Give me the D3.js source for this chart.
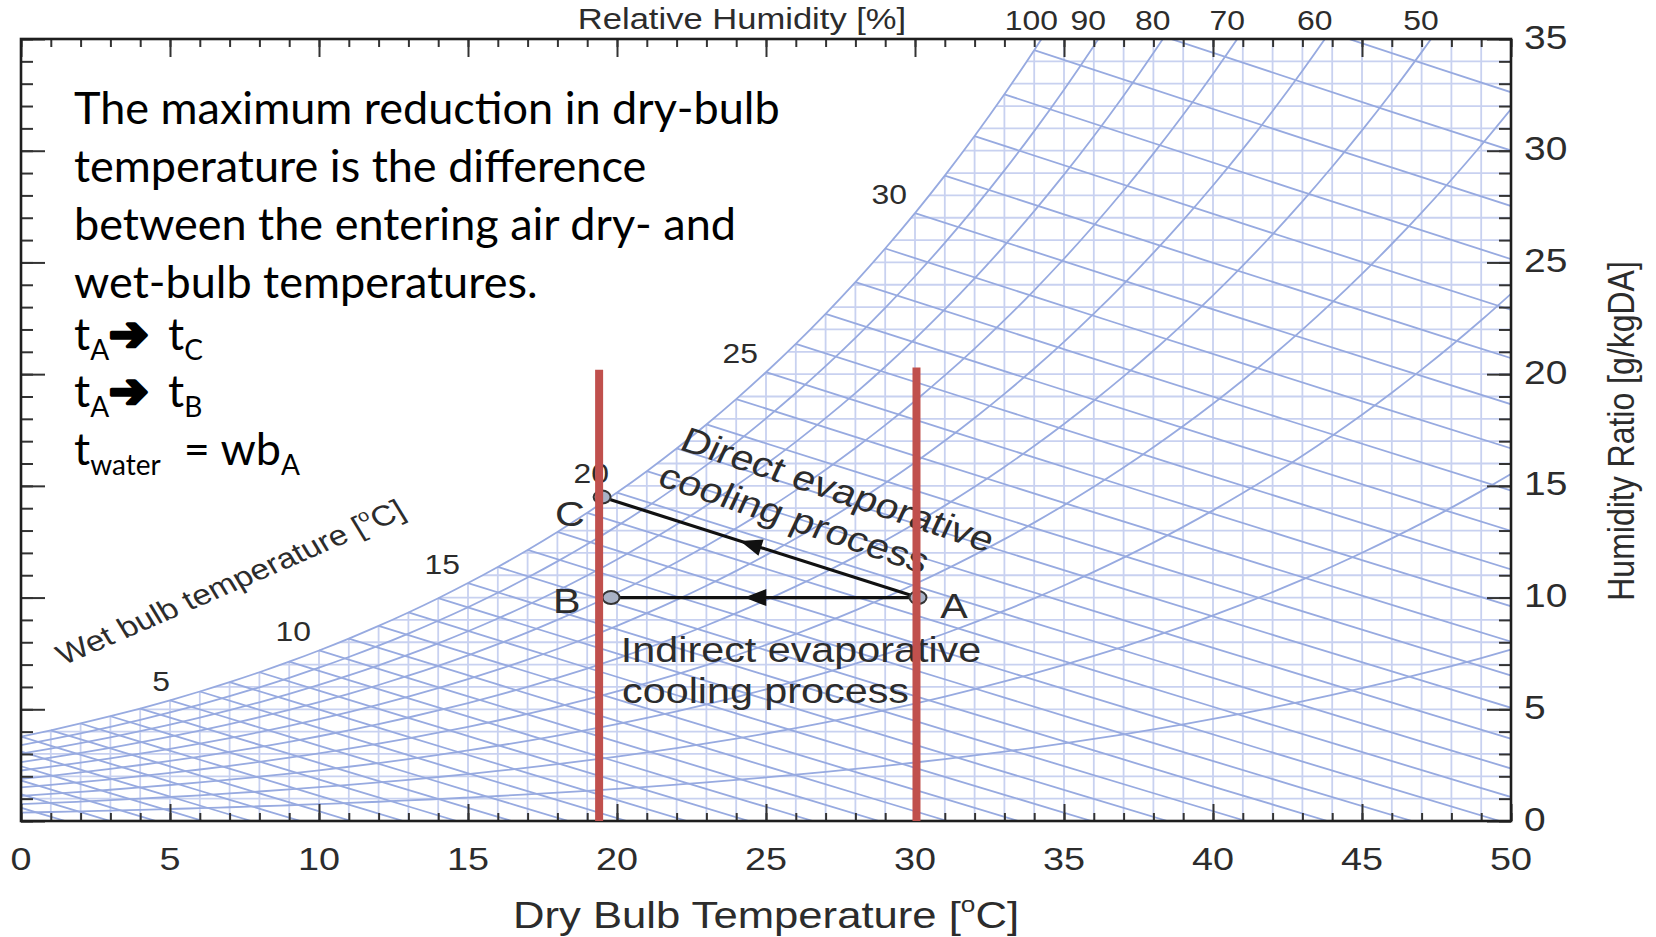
<!DOCTYPE html>
<html>
<head>
<meta charset="utf-8">
<title>Evaporative cooling on the psychrometric chart</title>
<script src="https://cdn.jsdelivr.net/npm/d3@7/dist/d3.min.js"></script>
<style>
  html, body { margin: 0; padding: 0; background: #ffffff; }
  svg { display: block; }
  text { white-space: pre; }
</style>
</head>
<body>
<svg id="chart" width="1656" height="937"></svg>
<script>
// ---------------- data ----------------
const atmosphericPressure = 101.325; // kPa

// Saturation vapour pressure of water (kPa) at whole degrees Celsius
const satTempC = [-10, -9, -8, -7, -6, -5, -4, -3, -2, -1,
  0, 1, 2, 3, 4, 5, 6, 7, 8, 9, 10, 11, 12, 13, 14, 15, 16, 17, 18, 19, 20,
  21, 22, 23, 24, 25, 26, 27, 28, 29, 30, 31, 32, 33, 34, 35, 36, 37, 38, 39, 40,
  41, 42, 43, 44, 45, 46, 47, 48, 49, 50];
const satPressureKPa = [0.2865, 0.3101, 0.3352, 0.3620, 0.3906, 0.4214, 0.4545, 0.4899, 0.5278, 0.5682,
  0.6112, 0.6571, 0.7060, 0.7581, 0.8135, 0.8726, 0.9354, 1.0021, 1.0730, 1.1482, 1.2282,
  1.3129, 1.4028, 1.4981, 1.5989, 1.7057, 1.8188, 1.9383, 2.0647, 2.1982, 2.3392,
  2.4881, 2.6452, 2.8109, 2.9856, 3.1697, 3.3637, 3.5679, 3.7828, 4.0089, 4.2467,
  4.4966, 4.7592, 5.0351, 5.3247, 5.6286, 5.9475, 6.2818, 6.6324, 6.9997, 7.3844,
  7.7873, 8.2090, 8.6503, 9.1118, 9.5944, 10.098, 10.624, 11.173, 11.746, 12.344];

const relativeHumidityLevels = [10, 20, 30, 40, 50, 60, 70, 80, 90, 100];
const relativeHumidityLabels = [100, 90, 80, 70, 60, 50];
const wetBulbLineTemps = [-6, -5, -4, -3, -2, -1, 0, 1, 2, 3, 4, 5, 6, 7, 8, 9, 10,
  11, 12, 13, 14, 15, 16, 17, 18, 19, 20, 21, 22, 23, 24, 25, 26, 27, 28, 29, 30,
  31, 32, 33, 34, 35, 36];
const wetBulbLabelTemps = [5, 10, 15, 20, 25, 30];

const dryBulbTicks = [0, 5, 10, 15, 20, 25, 30, 35, 40, 45, 50];
const humidityTicks = [0, 5, 10, 15, 20, 25, 30, 35];

// State points: dry bulb (°C) and humidity ratio (g/kg dry air)
const stateNames = ['A', 'B', 'C'];
const stateDryBulb = [30.1, 19.8, 19.5];
const stateHumidity = [10.0, 10.0, 14.5];
const processPaths = [['A', 'C'], ['A', 'B']];

// Vertical bars at t_C and t_A (°C) with the humidity ratio they reach
const barTemps = [19.4, 30.05];
const barTops = [20.2, 20.3];

const noteLines = [
  'The maximum reduction in dry-bulb',
  'temperature is the difference',
  'between the entering air dry- and',
  'wet-bulb temperatures.'
];
const formulaLines = [
  [{ t: 't' }, { t: 'A', sub: true }, { t: '\u2794', arrow: true }, { t: ' t', gap: 8 }, { t: 'C', sub: true }],
  [{ t: 't' }, { t: 'A', sub: true }, { t: '\u2794', arrow: true }, { t: ' t', gap: 8 }, { t: 'B', sub: true }],
  [{ t: 't' }, { t: 'water', sub: true }, { t: '  = wb' }, { t: 'A', sub: true }]
];

// ---------------- helpers ----------------
function humidityRatio(p, phi) {
  const pw = phi * p;
  return 622 * pw / (atmosphericPressure - pw);
}
const satIndex = t => satTempC.indexOf(t);
const satHumidity = t => humidityRatio(satPressureKPa[satIndex(t)], 1);

const svg = d3.select('#chart');
const x = d3.scaleLinear().domain([0, 50]).range([21, 1511]);
const y = d3.scaleLinear().domain([0, 35]).range([821, 39]);

const gridBlue = '#c8d1f0';
const lineBlue = '#97aae0';
const ink = '#2c2c2c';
const STRETCH = 1.18;

const curveLine = d3.line().x(d => x(d[0])).y(d => y(d[1])).curve(d3.curveMonotoneX);
const straight = d3.line().x(d => x(d[0])).y(d => y(d[1]));

function chartText(parent, px, py, angle, size) {
  const rad = angle * Math.PI / 180;
  const local = Math.abs(angle) === 90 ? angle : Math.atan(Math.tan(rad) * STRETCH) * 180 / Math.PI;
  return parent.append('text')
    .attr('transform', `translate(${px},${py}) scale(${STRETCH},1) rotate(${local})`)
    .attr('font-family', '"Liberation Sans", Arial, sans-serif')
    .attr('font-size', size)
    .attr('fill', ink);
}
function degreeC(textSel, before, size) {
  textSel.append('tspan').text(before + '[');
  textSel.append('tspan').attr('font-size', size * 0.6).attr('dy', -size * 0.42).text('o');
  textSel.append('tspan').attr('dy', size * 0.42).text('C]');
}

// ---------------- clip regions ----------------
const defs = svg.append('defs');
defs.append('clipPath').attr('id', 'plot-clip').append('rect')
  .attr('x', x(0)).attr('y', y(35)).attr('width', x(50) - x(0)).attr('height', y(0) - y(35));

const satPoints = satTempC.filter(t => t >= -1).map(t => [t, satHumidity(t)]);
defs.append('clipPath').attr('id', 'sat-clip').append('path')
  .attr('d', curveLine(satPoints) + `L${x(50)},${y(0)}L${x(-1)},${y(0)}Z`);

// ---------------- grid under the saturation curve ----------------
const grid = svg.append('g').attr('clip-path', 'url(#plot-clip)')
  .append('g').attr('clip-path', 'url(#sat-clip)')
  .attr('stroke', gridBlue).attr('stroke-width', 1.8);
grid.selectAll('line.v').data(d3.range(0, 51)).join('line').attr('class', 'v')
  .attr('x1', d => x(d)).attr('x2', d => x(d)).attr('y1', y(0)).attr('y2', y(35));
grid.selectAll('line.h').data(d3.range(0, 36)).join('line').attr('class', 'h')
  .attr('x1', x(0)).attr('x2', x(50)).attr('y1', d => y(d)).attr('y2', d => y(d));

// ---------------- relative humidity curves and wet-bulb lines ----------------
const curves = svg.append('g').attr('clip-path', 'url(#plot-clip)')
  .attr('fill', 'none').attr('stroke', lineBlue).attr('stroke-width', 1.8);

curves.selectAll('path.rh').data(relativeHumidityLevels).join('path').attr('class', 'rh')
  .attr('d', rh => curveLine(satTempC.filter(t => t >= -1)
    .map(t => [t, humidityRatio(satPressureKPa[satIndex(t)], rh / 100)])));

function wetBulbLine(twb) {
  const ws = satHumidity(twb) / 1000;
  const a = (2501 - 2.326 * twb) * ws;
  const tEnd = twb + a / 1.006;
  return d3.range(0, 9).map(k => {
    const t = twb + (tEnd - twb) * k / 8;
    const w = (a - 1.006 * (t - twb)) / (2501 + 1.86 * t - 4.186 * twb) * 1000;
    return [t, Math.max(w, 0)];
  });
}
curves.selectAll('path.wb').data(wetBulbLineTemps).join('path').attr('class', 'wb')
  .attr('d', twb => straight(wetBulbLine(twb)));

// ---------------- frame and ticks ----------------
const tickStyle = g => {
  g.select('.domain').remove();
  g.selectAll('text').remove();
  g.selectAll('line').attr('stroke', '#333').attr('stroke-width', 2);
};
const minorT = d3.range(0, 51), minorW = d3.range(0, 36);
svg.append('g').attr('transform', `translate(0,${y(0)})`)
  .call(d3.axisBottom(x).tickValues(minorT).tickSize(-8).tickFormat('')).call(tickStyle);
svg.append('g').attr('transform', `translate(0,${y(0)})`)
  .call(d3.axisBottom(x).tickValues(dryBulbTicks).tickSize(-17).tickFormat('')).call(tickStyle);
svg.append('g').attr('transform', `translate(0,${y(35)})`)
  .call(d3.axisTop(x).tickValues(minorT).tickSize(-8).tickFormat('')).call(tickStyle);
svg.append('g').attr('transform', `translate(0,${y(35)})`)
  .call(d3.axisTop(x).tickValues(dryBulbTicks).tickSize(-18).tickFormat('')).call(tickStyle);
svg.append('g').attr('transform', `translate(${x(0)},0)`)
  .call(d3.axisLeft(y).tickValues(minorW).tickSize(-12).tickFormat('')).call(tickStyle);
svg.append('g').attr('transform', `translate(${x(0)},0)`)
  .call(d3.axisLeft(y).tickValues(humidityTicks).tickSize(-24).tickFormat('')).call(tickStyle);
svg.append('g').attr('transform', `translate(${x(50)},0)`)
  .call(d3.axisRight(y).tickValues(minorW).tickSize(-12).tickFormat('')).call(tickStyle);
svg.append('g').attr('transform', `translate(${x(50)},0)`)
  .call(d3.axisRight(y).tickValues(humidityTicks).tickSize(-24).tickFormat('')).call(tickStyle);

svg.append('rect')
  .attr('x', x(0)).attr('y', y(35)).attr('width', x(50) - x(0)).attr('height', y(0) - y(35))
  .attr('fill', 'none').attr('stroke', '#1e1e1e').attr('stroke-width', 2.6);

// ---------------- axis labels ----------------
const labels = svg.append('g');
dryBulbTicks.forEach(t => {
  chartText(labels, x(t), 870, 0, 32).attr('text-anchor', 'middle').text(t);
});
humidityTicks.forEach(w => {
  chartText(labels, x(50) + 13, y(w) - 2, 0, 33).attr('dy', '0.35em').text(w);
});
degreeC(chartText(labels, (x(0) + x(50)) / 2, 928, 0, 37).attr('text-anchor', 'middle'),
  'Dry Bulb Temperature ', 37);
chartText(labels, 1621, (y(0) + y(35)) / 2 + 1, -90, 32)
  .attr('text-anchor', 'middle').attr('dy', '0.35em').text('Humidity Ratio [g/kgDA]');
chartText(labels, 742, 29, 0, 29.3).attr('text-anchor', 'middle').text('Relative Humidity [%]');

// relative humidity values where each curve meets the top edge
relativeHumidityLabels.forEach(rh => {
  const pts = satTempC.map(t => [t, humidityRatio(satPressureKPa[satIndex(t)], rh / 100)]);
  let tCross = 50;
  for (let i = 1; i < pts.length; i++) {
    if (pts[i - 1][1] < 35 && pts[i][1] >= 35) {
      tCross = pts[i - 1][0] + (35 - pts[i - 1][1]) / (pts[i][1] - pts[i - 1][1]);
      break;
    }
  }
  chartText(labels, x(tCross) - 10, 30, 0, 27).attr('text-anchor', 'middle').text(rh);
});

// wet-bulb values just above the saturation curve
wetBulbLabelTemps.forEach(t => {
  chartText(labels, x(t) - 8 + (t === 5 ? 8 : 0), y(satHumidity(t)) - 19, 0, 27)
    .attr('text-anchor', 'end').attr('dy', '0.35em').text(t);
});
degreeC(chartText(labels, x(7.2), y(10.3), -23.5, 28.5).attr('text-anchor', 'middle'),
  'Wet bulb temperature ', 28.5);

// ---------------- cooling processes ----------------
const proc = svg.append('g');
const statePos = name => {
  const i = stateNames.indexOf(name);
  return [x(stateDryBulb[i]), y(stateHumidity[i])];
};
processPaths.forEach(([from, to]) => {
  const p0 = statePos(from), p1 = statePos(to);
  proc.append('line')
    .attr('x1', p0[0]).attr('y1', p0[1]).attr('x2', p1[0]).attr('y2', p1[1])
    .attr('stroke', '#111').attr('stroke-width', 3.2);
  const dx = p1[0] - p0[0], dy = p1[1] - p0[1], len = Math.hypot(dx, dy);
  const ux = dx / len, uy = dy / len;
  const mx = p0[0] + dx * 0.53, my = p0[1] + dy * 0.53;
  proc.append('path')
    .attr('d', `M${mx + ux * 11},${my + uy * 11}` +
      `L${mx - ux * 11 - uy * 8.5},${my - uy * 11 + ux * 8.5}` +
      `L${mx - ux * 11 + uy * 8.5},${my - uy * 11 - ux * 8.5}Z`)
    .attr('fill', '#111');
});
proc.selectAll('ellipse').data(stateNames).join('ellipse')
  .attr('cx', d => statePos(d)[0]).attr('cy', d => statePos(d)[1])
  .attr('rx', 8.5).attr('ry', 6.5)
  .attr('fill', '#a9b2c6').attr('stroke', '#333').attr('stroke-width', 2);

chartText(proc, x(30.85), y(9.1), 0, 35).text('A');
chartText(proc, x(17.85), y(9.31), 0, 35).text('B');
chartText(proc, x(17.92), y(13.2), 0, 35).text('C');

chartText(proc, x(22.05), y(16.65), 18.5, 35).text('Direct evaporative');
chartText(proc, x(21.3), y(15.05), 18.5, 35).text('cooling process');
chartText(proc, x(20.13), y(7.12), 0, 35).text('Indirect evaporative');
chartText(proc, x(20.17), y(5.3), 0, 35).text('cooling process');

// ---------------- vertical bars at t_C and t_A ----------------
svg.append('g').selectAll('line').data(barTemps).join('line')
  .attr('x1', d => x(d)).attr('x2', d => x(d))
  .attr('y1', y(0)).attr('y2', (d, i) => y(barTops[i]))
  .attr('stroke', '#c0504d').attr('stroke-width', 8);

// ---------------- explanatory note ----------------
const note = svg.append('g')
  .attr('font-family', 'Lato, "Open Sans", sans-serif').attr('fill', '#000');
const noteBaselines = [124, 182, 240, 298];
noteLines.forEach((line, i) => {
  note.append('text').attr('x', 74).attr('y', noteBaselines[i]).attr('font-size', 45).text(line);
});
const formulaBaselines = [350, 407, 465];
formulaLines.forEach((segs, i) => {
  const t = note.append('text').attr('x', 74).attr('y', formulaBaselines[i]).attr('font-size', 45);
  let shift = 0;
  segs.forEach(s => {
    const want = s.sub ? 10 : 0;
    const sp = t.append('tspan').attr('dy', want - shift).text(s.t);
    shift = want;
    if (s.gap) sp.attr('dx', s.gap);
    if (s.sub) sp.attr('font-size', 28);
    if (s.arrow) sp.attr('font-family', '"DejaVu Sans", sans-serif')
      .attr('font-weight', 'bold').attr('font-size', 47)
      .attr('stroke', '#000').attr('stroke-width', 3.6).attr('stroke-linejoin', 'round');
  });
});
</script>
</body>
</html>
